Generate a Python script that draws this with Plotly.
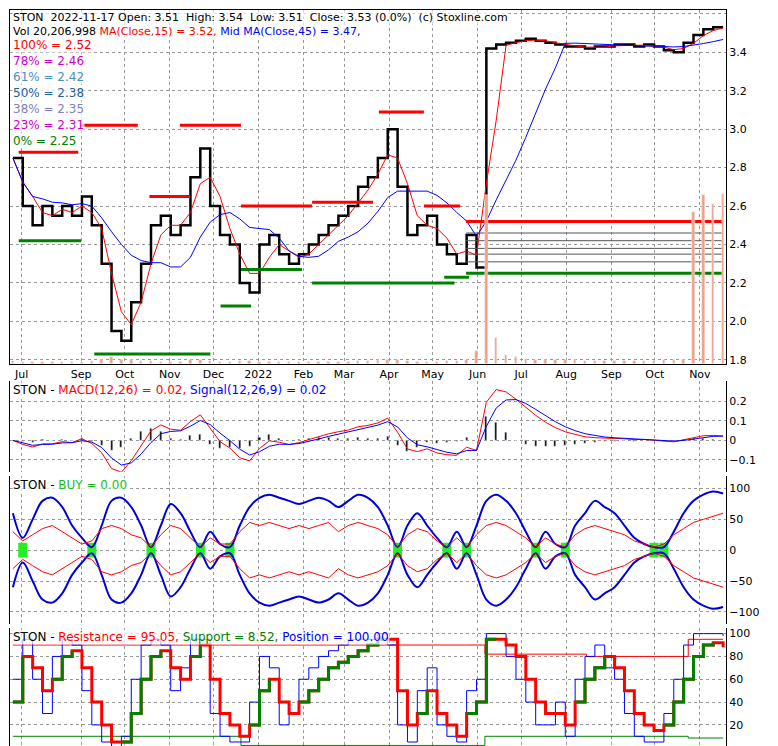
import pandas as pd
import plotly.graph_objects as go

# weekly data, Jul 2021 - Nov 2022
dates = pd.date_range("2021-07-16", "2022-11-17", periods=73)
close = [2.85, 2.6, 2.5, 2.6, 2.55, 2.6, 2.55, 2.65, 2.5, 2.3,
         1.95, 1.9, 2.1, 2.3, 2.5, 2.55, 2.45, 2.5, 2.75, 2.9,
         2.6, 2.45, 2.4, 2.2, 2.15, 2.4, 2.45, 2.35, 2.3, 2.35,
         2.4, 2.45, 2.5, 2.55, 2.6, 2.7, 2.75, 2.85, 3.0, 2.7,
         2.45, 2.5, 2.55, 2.4, 2.35, 2.3, 2.45, 2.28, 3.42, 3.44,
         3.45, 3.46, 3.47, 3.46, 3.45, 3.44, 3.43, 3.43, 3.42, 3.43,
         3.43, 3.44, 3.44, 3.43, 3.44, 3.43, 3.41, 3.40, 3.45, 3.49,
         3.52, 3.53, 3.53]
volume = [0.3, 0.2, 0.2, 0.2, 0.2, 0.2, 0.2, 0.2, 0.3, 0.4,
          0.8, 0.5, 0.4, 0.3, 0.3, 0.2, 0.2, 0.2, 0.4, 0.5,
          0.3, 0.2, 0.2, 0.3, 0.3, 0.2, 0.2, 0.2, 0.2, 0.2,
          0.2, 0.2, 0.2, 0.2, 0.2, 0.3, 0.3, 0.4, 0.5, 0.4,
          0.3, 0.2, 0.2, 0.2, 0.3, 0.3, 0.4, 1.5, 20.0, 3.0,
          1.0, 0.8, 0.6, 0.5, 0.5, 0.4, 0.4, 0.4, 0.3, 0.3,
          0.3, 0.3, 0.3, 0.3, 0.3, 0.3, 0.4, 0.4, 0.5, 18.0,
          20.0, 19.0, 20.2]

month_ticks = ["2021-07-22", "2021-09-01", "2021-10-01", "2021-11-01", "2021-12-01", "2022-01-01",
               "2022-02-01", "2022-03-01", "2022-04-01", "2022-05-01", "2022-06-01", "2022-07-01",
               "2022-08-01", "2022-09-01", "2022-10-01", "2022-11-01"]
month_labels = ["Jul", "Sep", "Oct", "Nov", "Dec", "2022", "Feb", "Mar", "Apr", "May", "Jun", "Jul",
                "Aug", "Sep", "Oct", "Nov"]

fib_labels = ["100%", "78%", "61%", "50%", "38%", "23%", "0%"]
fib_values = [2.52, 2.46, 2.42, 2.38, 2.35, 2.31, 2.25]
fib_colors = ["red", "#cc00cc", "#4a90c0", "#2060a0", "#8080c0", "#cc00cc", "green"]

# earlier resistance / support segments (start, end, level)
res_segs = [("2021-07-20", "2021-08-30", 2.88), ("2021-09-01", "2021-10-10", 3.02),
            ("2021-10-18", "2021-11-15", 2.65), ("2021-11-08", "2021-12-20", 3.02),
            ("2021-12-20", "2022-02-07", 2.6), ("2022-02-07", "2022-03-21", 2.62),
            ("2022-03-25", "2022-04-25", 3.09), ("2022-04-25", "2022-05-20", 2.6)]
sup_segs = [("2021-07-20", "2021-09-01", 2.42), ("2021-09-10", "2021-11-29", 1.83),
            ("2021-12-06", "2021-12-27", 2.08), ("2021-12-20", "2022-01-31", 2.27),
            ("2022-02-07", "2022-05-16", 2.2), ("2022-05-09", "2022-05-26", 2.23)]

buy_env = [60, 20, 50, 80, 85, 70, 40, 20, 5, 40, 80, 85, 70, 40, 5, 40, 75, 60, 30, 5,
           30, 10, 5, 40, 70, 85, 90, 85, 80, 75, 80, 85, 80, 70, 80, 90, 85, 70, 40, 5,
           40, 60, 40, 20, 5, 30, 5, 40, 80, 90, 80, 60, 30, 5, 30, 10, 5, 40, 60, 80,
           70, 60, 40, 20, 10, 5, 5, 30, 60, 80, 90, 95, 92]
buy_red = [30, 15, 25, 35, 40, 30, 20, 10, 15, 35, 40, 35, 25, 20, 5, 25, 40, 35, 20, 5,
           20, 10, 10, 30, 45, 40, 45, 40, 35, 40, 35, 40, 45, 30, 40, 45, 40, 35, 25, 5,
           25, 35, 30, 15, 5, 20, 5, 25, 40, 45, 40, 30, 20, 5, 20, 10, 5, 25, 35, 40,
           35, 30, 25, 15, 10, 5, 10, 25, 35, 45, 50, 55, 60]
buy_idx = [1, 8, 14, 19, 22, 39, 44, 46, 53, 56, 65, 66]

stoch = [40, 80, 70, 50, 60, 80, 85, 70, 40, 20, 5, 5, 30, 60, 80, 85, 70, 60, 80, 90,
         60, 30, 20, 10, 20, 50, 60, 40, 30, 40, 50, 60, 70, 75, 80, 85, 90, 95, 95, 50,
         20, 30, 50, 30, 20, 10, 30, 40, 95, 95, 90, 80, 60, 40, 30, 30, 20, 40, 60, 70,
         80, 70, 50, 30, 20, 15, 20, 40, 60, 80, 90, 92, 88]
fast = [60, 95, 60, 30, 80, 95, 90, 50, 20, 5, 0, 10, 60, 90, 95, 90, 50, 70, 95, 95,
        30, 10, 5, 5, 40, 80, 70, 20, 30, 60, 70, 80, 85, 90, 95, 95, 95, 100, 90, 20,
        5, 50, 70, 20, 10, 5, 50, 60, 100, 100, 80, 60, 40, 20, 20, 40, 10, 60, 80, 90,
        70, 60, 30, 10, 5, 5, 30, 60, 90, 100, 100, 100, 98]
resist_dates = ["2021-07-16", "2022-05-23", "2022-06-06", "2022-08-15", "2022-10-24", "2022-11-17"]
resist_vals = [90, 90, 82, 80, 95, 95]
support_dates = ["2021-07-16", "2021-12-20", "2022-05-23", "2022-06-06", "2022-10-24", "2022-11-17"]
support_vals = [10, 2, 2, 10, 8.5, 8.5]

df = pd.DataFrame({"close": close, "volume": volume}, index=dates)
df["ma15"] = df["close"].rolling(3, min_periods=1).mean()
df["ma45"] = df["close"].rolling(9, min_periods=1).mean()
ema_fast = df["close"].ewm(span=3).mean()
ema_slow = df["close"].ewm(span=6).mean()
df["macd"] = ema_fast - ema_slow
df["signal"] = df["macd"].ewm(span=3).mean()
df["hist"] = df["macd"] - df["signal"]

def line(x, y, color, width=1, yaxis="y", shape="linear"):
    return go.Scatter(x=x, y=y, mode="lines", line=dict(color=color, width=width, shape=shape), yaxis=yaxis)

fig = go.Figure()
# main panel
fig.add_trace(go.Bar(x=dates, y=volume, marker_color="#f4a080", width=1.5e8, yaxis="y5"))
fig.add_trace(line(dates, close, "black", 2.5, shape="hv"))
fig.add_trace(line(dates, df["ma15"], "red"))
fig.add_trace(line(dates, df["ma45"], "blue"))
for s, e, v in res_segs:
    fig.add_trace(line([s, e], [v, v], "red", 3))
for s, e, v in sup_segs:
    fig.add_trace(line([s, e], [v, v], "green", 3))
for v, c in zip(fib_values, fib_colors):
    if c in ("red", "green"):
        fig.add_trace(line(["2022-05-24", dates[-1]], [v, v], c, 3))
    else:
        fig.add_trace(line(["2022-05-24", dates[-1]], [v, v], "#555", 1))

# MACD panel
fig.add_trace(go.Bar(x=dates, y=df["hist"], marker_color="black", width=1.2e8, yaxis="y2"))
fig.add_trace(line(dates, df["macd"], "red", yaxis="y2"))
fig.add_trace(line(dates, df["signal"], "blue", yaxis="y2"))

# BUY panel
for i in buy_idx:
    fig.add_trace(line([dates[i], dates[i]], [-12, 12], "#22ee22", 9, yaxis="y3"))
fig.add_trace(line(dates, buy_env, "#0000dd", 2, "y3", "spline"))
fig.add_trace(line(dates, [-v for v in buy_env], "#0000dd", 2, "y3", "spline"))
fig.add_trace(line(dates, buy_red, "red", 1, "y3"))
fig.add_trace(line(dates, [-v for v in buy_red], "red", 1, "y3"))

# Resistance / position panel
fig.add_trace(line(resist_dates, resist_vals, "red", 1, "y4", "hv"))
fig.add_trace(line(support_dates, support_vals, "green", 1, "y4", "hv"))
fig.add_trace(line(dates, fast, "blue", 1, "y4", "hv"))
up = [stoch[i] if i == 0 or stoch[i] >= stoch[i - 1] else None for i in range(len(stoch))]
fig.add_trace(line(dates, stoch, "red", 3, "y4", "hv"))
fig.add_trace(line(dates, up, "green", 3, "y4", "hv"))

grid = dict(showgrid=True, gridcolor="#999", griddash="dot", gridwidth=1,
            showline=True, linecolor="black", mirror=True, zeroline=False,
            side="right", ticks="", tickfont=dict(size=11, color="black"))
fig.update_layout(
    width=778, height=746, showlegend=False, bargap=0,
    paper_bgcolor="white", plot_bgcolor="white",
    font=dict(family="DejaVu Sans", size=11, color="black"),
    margin=dict(l=1, r=60, t=1, b=1),
    xaxis=dict(range=["2021-07-14", "2022-11-19"], tickvals=month_ticks, ticktext=month_labels,
               showgrid=True, gridcolor="#999", griddash="dot", showline=True,
               linecolor="black", mirror=True, ticks="", anchor="y",
               tickfont=dict(size=11)),
    yaxis=dict(domain=[0.522, 1.0], range=[1.78, 3.62], dtick=0.2, tickformat=".1f", **grid),
    yaxis5=dict(domain=[0.522, 1.0], overlaying="y", range=[0, 42], visible=False),
    yaxis2=dict(domain=[0.376, 0.498], range=[-0.16, 0.3], tickvals=[-0.1, 0, 0.1, 0.2],
                anchor="x", **grid),
    yaxis3=dict(domain=[0.17, 0.37], range=[-120, 120], tickvals=[-100, -50, 0, 50, 100],
                anchor="x", **grid),
    yaxis4=dict(domain=[0.0, 0.165], range=[-2, 105], tickvals=[0, 20, 40, 60, 80, 100],
                anchor="x", **grid),
)

def label(y, parts, size=12):
    txt = "".join(f"<span style='color:{c}'>{t}</span>" for t, c in parts)
    fig.add_annotation(x=0.003, y=y, xref="paper", yref="paper", text=txt, showarrow=False,
                       xanchor="left", yanchor="top", font=dict(size=size), borderpad=0,
                       bgcolor="rgba(255,255,255,0.7)")

label(1.0, [("STON  2022-11-17 Open: 3.51  High: 3.54  Low: 3.51  Close: 3.53 (0.0%)  (c) Stoxline.com", "black")], 11)
label(0.981, [("Vol 20,206,998 ", "black"), ("MA(Close,15) = 3.52, ", "red"), ("Mid MA(Close,45) = 3.47,", "blue")], 11)
for k, (lab, v, c) in enumerate(zip(fib_labels, fib_values, fib_colors)):
    label(0.963 - k * 0.0215, [(f"{lab} = {v:.2f}", c)])
label(0.497, [("STON - ", "black"), ("MACD(12,26) = 0.02, ", "red"), ("Signal(12,26,9) = 0.02", "blue")])
label(0.369, [("STON - ", "black"), ("BUY = 0.00", "#22bb22")])
label(0.164, [("STON - ", "black"), ("Resistance = 95.05, ", "red"), ("Support = 8.52, ", "green"),
              ("Position = 100.00", "blue")])

fig.write_html("out.html")
